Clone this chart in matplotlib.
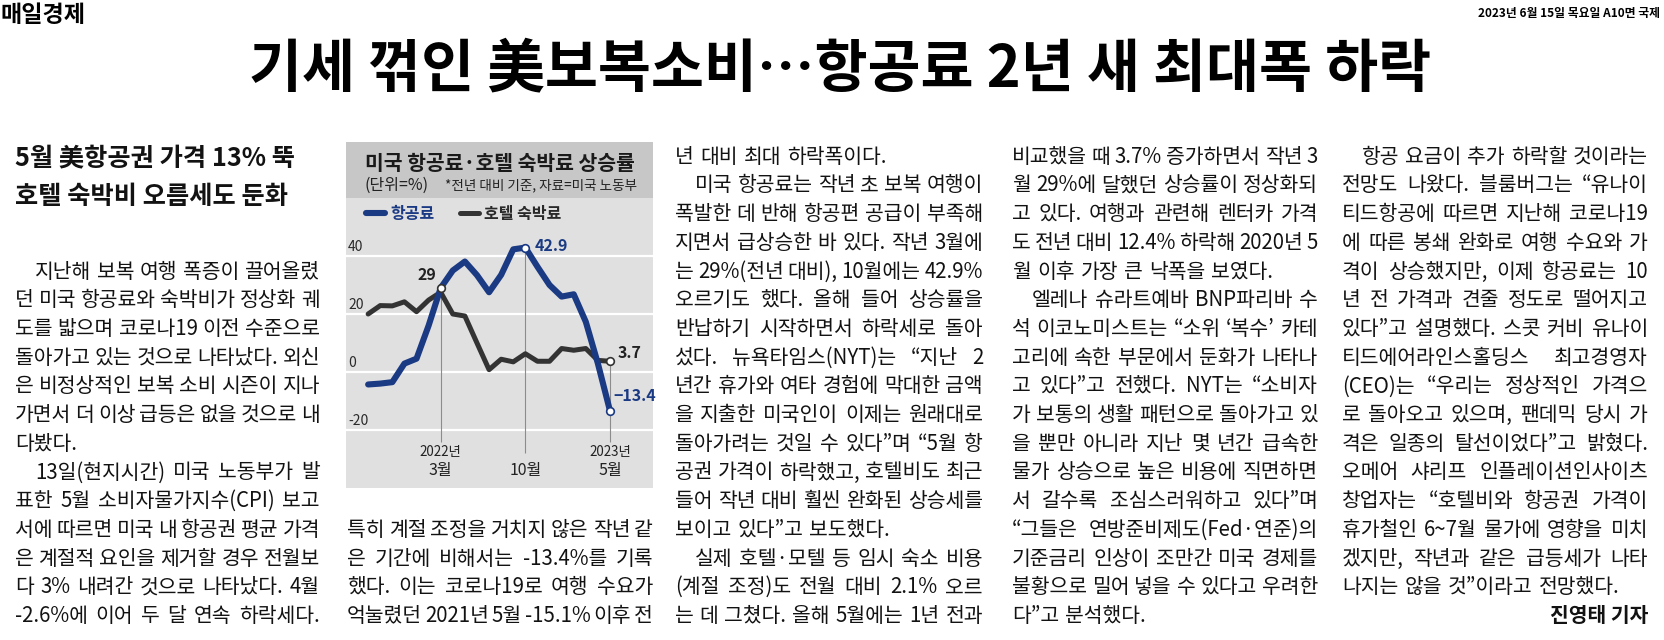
import matplotlib
matplotlib.use('Agg')
import matplotlib.pyplot as plt
from matplotlib.patches import Rectangle

FONT = ['Noto Sans CJK KR', 'DejaVu Sans']
plt.rcParams['font.family'] = FONT

# ---------------- data ----------------
months = ['2021-09', '2021-10', '2021-11', '2021-12', '2022-01', '2022-02', '2022-03',
          '2022-04', '2022-05', '2022-06', '2022-07', '2022-08', '2022-09', '2022-10',
          '2022-11', '2022-12', '2023-01', '2023-02', '2023-03', '2023-04', '2023-05']
airfare = [-4.3, -4.0, -3.5, 2.9, 4.6, 16.0, 29.0, 35.0, 38.1, 33.4, 27.5, 33.5,
           42.3, 42.9, 36.3, 30.0, 26.0, 26.8, 17.3, 2.9, -13.4]
hotel = [20.0, 22.9, 22.8, 24.2, 20.8, 24.8, 27.5, 20.0, 19.3, 10.0, 0.8, 4.4,
         3.5, 6.3, 3.7, 3.7, 8.1, 7.5, 8.1, 4.0, 3.7]
series_names = ['항공료', '호텔 숙박료']
yticks = [40, 20, 0, -20]
ytick_labels = ['40', '20', '0', '-20']
highlight_months = ['2022-03', '2022-10', '2023-05']
xlabel_years = ['2022년', '', '2023년']
xlabel_months = ['3월', '10월', '5월']

chart_title = '미국 항공료·호텔 숙박료 상승률'
chart_unit = '(단위=%)'
chart_note = '*전년 대비 기준, 자료=미국 노동부'

masthead = '매일경제'
dateline = '2023년 6월 15일 목요일 A10면 국제'
headline = '기세 꺾인 美보복소비…항공료 2년 새 최대폭 하락'
subheads = ['5월 美항공권 가격 13% 뚝', '호텔 숙박비 오름세도 둔화']

col1 = [('지난해 보복 여행 폭증이 끌어올렸', 'i'),
        ('던 미국 항공료와 숙박비가 정상화 궤', 'j'),
        ('도를 밟으며 코로나19 이전 수준으로', 'j'),
        ('돌아가고 있는 것으로 나타났다. 외신', 'j'),
        ('은 비정상적인 보복 소비 시즌이 지나', 'j'),
        ('가면서 더 이상 급등은 없을 것으로 내', 'j'),
        ('다봤다.', 'l'),
        ('13일(현지시간) 미국 노동부가 발', 'i'),
        ('표한 5월 소비자물가지수(CPI) 보고', 'j'),
        ('서에 따르면 미국 내 항공권 평균 가격', 'j'),
        ('은 계절적 요인을 제거할 경우 전월보', 'j'),
        ('다 3% 내려간 것으로 나타났다. 4월', 'j'),
        ('-2.6%에 이어 두 달 연속 하락세다.', 'j')]
col2 = [('특히 계절 조정을 거치지 않은 작년 같', 'j'),
        ('은 기간에 비해서는 -13.4%를 기록', 'j'),
        ('했다. 이는 코로나19로 여행 수요가', 'j'),
        ('억눌렸던 2021년 5월 -15.1% 이후 전', 'j')]
col3 = [('년 대비 최대 하락폭이다.', 'l'),
        ('미국 항공료는 작년 초 보복 여행이', 'i'),
        ('폭발한 데 반해 항공편 공급이 부족해', 'j'),
        ('지면서 급상승한 바 있다. 작년 3월에', 'j'),
        ('는 29%(전년 대비), 10월에는 42.9%', 'j'),
        ('오르기도 했다. 올해 들어 상승률을', 'j'),
        ('반납하기 시작하면서 하락세로 돌아', 'j'),
        ('섰다. 뉴욕타임스(NYT)는 “지난 2', 'j'),
        ('년간 휴가와 여타 경험에 막대한 금액', 'j'),
        ('을 지출한 미국인이 이제는 원래대로', 'j'),
        ('돌아가려는 것일 수 있다”며 “5월 항', 'j'),
        ('공권 가격이 하락했고, 호텔비도 최근', 'j'),
        ('들어 작년 대비 훨씬 완화된 상승세를', 'j'),
        ('보이고 있다”고 보도했다.', 'l'),
        ('실제 호텔·모텔 등 임시 숙소 비용', 'i'),
        ('(계절 조정)도 전월 대비 2.1% 오르', 'j'),
        ('는 데 그쳤다. 올해 5월에는 1년 전과', 'j')]
col4 = [('비교했을 때 3.7% 증가하면서 작년 3', 'j'),
        ('월 29%에 달했던 상승률이 정상화되', 'j'),
        ('고 있다. 여행과 관련해 렌터카 가격', 'j'),
        ('도 전년 대비 12.4% 하락해 2020년 5', 'j'),
        ('월 이후 가장 큰 낙폭을 보였다.', 'l'),
        ('엘레나 슈라트예바 BNP파리바 수', 'i'),
        ('석 이코노미스트는 “소위 ‘복수’ 카테', 'j'),
        ('고리에 속한 부문에서 둔화가 나타나', 'j'),
        ('고 있다”고 전했다. NYT는 “소비자', 'j'),
        ('가 보통의 생활 패턴으로 돌아가고 있', 'j'),
        ('을 뿐만 아니라 지난 몇 년간 급속한', 'j'),
        ('물가 상승으로 높은 비용에 직면하면', 'j'),
        ('서 갈수록 조심스러워하고 있다”며', 'j'),
        ('“그들은 연방준비제도(Fed·연준)의', 'j'),
        ('기준금리 인상이 조만간 미국 경제를', 'j'),
        ('불황으로 밀어 넣을 수 있다고 우려한', 'j'),
        ('다”고 분석했다.', 'l')]
col5 = [('항공 요금이 추가 하락할 것이라는', 'i'),
        ('전망도 나왔다. 블룸버그는 “유나이', 'j'),
        ('티드항공에 따르면 지난해 코로나19', 'j'),
        ('에 따른 봉쇄 완화로 여행 수요와 가', 'j'),
        ('격이 상승했지만, 이제 항공료는 10', 'j'),
        ('년 전 가격과 견줄 정도로 떨어지고', 'j'),
        ('있다”고 설명했다. 스콧 커비 유나이', 'j'),
        ('티드에어라인스홀딩스 최고경영자', 'j'),
        ('(CEO)는 “우리는 정상적인 가격으', 'j'),
        ('로 돌아오고 있으며, 팬데믹 당시 가', 'j'),
        ('격은 일종의 탈선이었다”고 밝혔다.', 'j'),
        ('오메어 샤리프 인플레이션인사이츠', 'j'),
        ('창업자는 “호텔비와 항공권 가격이', 'j'),
        ('휴가철인 6~7월 물가에 영향을 미치', 'j'),
        ('겠지만, 작년과 같은 급등세가 나타', 'j'),
        ('나지는 않을 것”이라고 전망했다.', 'l'),
        ('진영태 기자', 'r')]

# ---------------- page ----------------
W, H = 1665, 640
fig = plt.figure(figsize=(W / 100, H / 100), dpi=100)
fig.patch.set_facecolor('white')
page = fig.add_axes([0, 0, 1, 1])
page.set_xlim(0, W)
page.set_ylim(H, 0)
page.axis('off')
renderer = fig.canvas.get_renderer()

TXT = '#121212'
PX = 100 / 72


def width_of(t):
    return t.get_window_extent(renderer).width


def fit_text(x, y, s, width, **kw):
    t = page.text(x, y, s, fontsize=10, **kw)
    t.set_fontsize(10 * width / width_of(t))
    return t


fit_text(0, 15, masthead, 85, ha='left', va='center', weight='bold', color='black')
fit_text(1660, 14, dateline, 182, ha='right', va='center', weight='bold', color='black')
fit_text(840, 69, headline, 1181, ha='center', va='center', weight='bold', color='black')

sub_t = fit_text(15, 197, subheads[1], 272, ha='left', va='center', weight='bold', color=TXT)
page.text(15, 158, subheads[0], fontsize=sub_t.get_fontsize(), ha='left', va='center',
          weight='bold', color=TXT)

INDENT = 20
LINE0, LEAD = 155, 28.7
columns = [(15, 320, 4, col1), (347, 653, 13, col2), (675, 983, 0, col3),
           (1012, 1318, 0, col4), (1342, 1648, 0, col5)]


def word_widths(words, size):
    objs = [page.text(0, 0, w, fontsize=size) for w in words]
    ws = [width_of(o) for o in objs]
    for o in objs:
        o.remove()
    return ws


# choose one body size so the justified lines keep a natural word gap
MIN_GAP_EM = 0.2
sizes = []
for x0, x1, k0, lines in columns:
    for s, mode in lines:
        if mode not in ('i', 'j'):
            continue
        words = s.split()
        avail = x1 - x0 - (INDENT if mode == 'i' else 0)
        s10 = sum(word_widths(words, 10)) / 10
        sizes.append(avail / (s10 + (len(words) - 1) * MIN_GAP_EM * PX))
sizes.sort()
BODY = min(sizes[max(0, len(sizes) // 12)], 16)


def set_line(x0, x1, yc, s, mode, size, weight='normal'):
    px = size * PX
    base = yc + 0.38 * px
    if mode == 'r':
        page.text(x1, base, s, fontsize=size, weight=weight, color=TXT, ha='right', va='baseline')
        return
    words = s.split()
    start = x0 + (INDENT if mode == 'i' else 0)
    objs = [page.text(start, base, w, fontsize=size, weight=weight, color=TXT,
                      ha='left', va='baseline') for w in words]
    ws = [width_of(o) for o in objs]
    n = len(words)
    min_gap = 0.1 * px
    if mode in ('j', 'i') and n > 1:
        gap = (x1 - start - sum(ws)) / (n - 1)
        if gap < min_gap:
            scale = (x1 - start - (n - 1) * min_gap) / sum(ws)
            for o in objs:
                o.set_fontsize(size * scale)
            ws = [width_of(o) for o in objs]
            gap = (x1 - start - sum(ws)) / (n - 1)
    else:
        gap = 0.3 * px
    x = start
    for o, w in zip(objs, ws):
        o.set_x(x)
        x += w + gap


for x0, x1, k0, lines in columns:
    for i, (s, mode) in enumerate(lines):
        set_line(x0, x1, LINE0 + LEAD * (k0 + i), s, mode, BODY,
                 weight='bold' if mode == 'r' else 'normal')

# ---------------- chart ----------------
CX0, CX1, CY0, CYB, CY1 = 346, 653, 142, 198, 488
page.add_patch(Rectangle((CX0, CY0), CX1 - CX0, CYB - CY0, facecolor='#c7c7c7',
                         edgecolor='none', zorder=0))
page.add_patch(Rectangle((CX0, CYB), CX1 - CX0, CY1 - CYB, facecolor='#e0e0e0',
                         edgecolor='none', zorder=0))
fit_text(365, 163, chart_title, 270, ha='left', va='center', weight='bold', color='#1a1a1a')
page.text(365, 185, chart_unit, fontsize=11.5, ha='left', va='center', color='#222222')
fit_text(445, 185, chart_note, 192, ha='left', va='center', color='#222222')

BLUE = '#1b3a84'
DARK = '#333333'

ax = fig.add_axes([CX0 / W, 1 - CY1 / H, (CX1 - CX0) / W, (CY1 - CYB) / H])
ax.patch.set_alpha(0)
ax.axis('off')
x = list(range(len(months)))
per = (610 - 440.7) / (months.index('2023-05') - months.index('2022-03'))
i_mar = months.index('2022-03')
ax.set_xlim(i_mar - (440.7 - CX0) / per, i_mar + (CX1 - 440.7) / per)
ax.set_ylim(-40, 60)

for v, lab in zip(yticks, ytick_labels):
    ax.axhline(v, color='white', lw=1.6, zorder=1)
    ax.annotate(lab, xy=(0, v), xycoords=('axes fraction', 'data'), xytext=(2, 2),
                textcoords='offset pixels', ha='left', va='bottom', fontsize=10,
                color='#2a2a2a')

for m, yl, ml in zip(highlight_months, xlabel_years, xlabel_months):
    i = months.index(m)
    top = max(airfare[i], hotel[i])
    ax.vlines(i, -24 if yl else -28, top, color='#8c8c8c', lw=0.8, zorder=2)
    if yl:
        ax.annotate(yl, xy=(i, 0.124), xycoords=('data', 'axes fraction'), ha='center',
                    va='center', fontsize=9.6, color='#222222')
    ax.annotate(ml, xy=(i, 0.062), xycoords=('data', 'axes fraction'), ha='center',
                va='center', fontsize=11.5, color='#222222')

l_hot, = ax.plot(x, hotel, color=DARK, lw=3.6, solid_joinstyle='round',
                 solid_capstyle='round', zorder=3)
l_air, = ax.plot(x, airfare, color=BLUE, lw=4.4, solid_joinstyle='round',
                 solid_capstyle='round', zorder=4)

for m in highlight_months:
    i = months.index(m)
    ax.plot(i, airfare[i], 'o', mfc='white', mec=BLUE if m != '2022-03' else DARK,
            ms=5.5, mew=1.2, zorder=6)
i_last = months.index('2023-05')
ax.plot(i_last, hotel[i_last], 'o', mfc='white', mec=DARK, ms=5.5, mew=1.2, zorder=6)


def lab(v):
    return f'{v:g}'.replace('-', '−')


ax.annotate(lab(airfare[i_mar]), xy=(i_mar, airfare[i_mar]), xytext=(-14, 13),
            textcoords='offset pixels', ha='center', va='center', fontsize=11.5,
            weight='bold', color='#222222', zorder=7)
i_oct = months.index('2022-10')
ax.annotate(lab(airfare[i_oct]), xy=(i_oct, airfare[i_oct]), xytext=(9, 2),
            textcoords='offset pixels', ha='left', va='center', fontsize=11.5,
            weight='bold', color=BLUE, zorder=7)
ax.annotate(lab(hotel[i_last]), xy=(i_last, hotel[i_last]), xytext=(8, 8),
            textcoords='offset pixels', ha='left', va='center', fontsize=11.5,
            weight='bold', color='#222222', zorder=7)
ax.annotate(lab(airfare[i_last]), xy=(i_last, airfare[i_last]), xytext=(3, 15),
            textcoords='offset pixels', ha='left', va='center', fontsize=11.5,
            weight='bold', color=BLUE, zorder=7)

leg = ax.legend([l_air, l_hot], series_names, loc='center left',
                bbox_to_anchor=(366, 214), bbox_transform=page.transData,
                frameon=False, ncol=2, handlelength=1.2, handletextpad=0.3,
                columnspacing=1.6, borderpad=0, borderaxespad=0,
                prop={'family': FONT, 'size': 11.5, 'weight': 'bold'})
for t, c in zip(leg.get_texts(), [BLUE, '#2a2a2a']):
    t.set_color(c)

fig.savefig('out.png', dpi=100, facecolor='white')
